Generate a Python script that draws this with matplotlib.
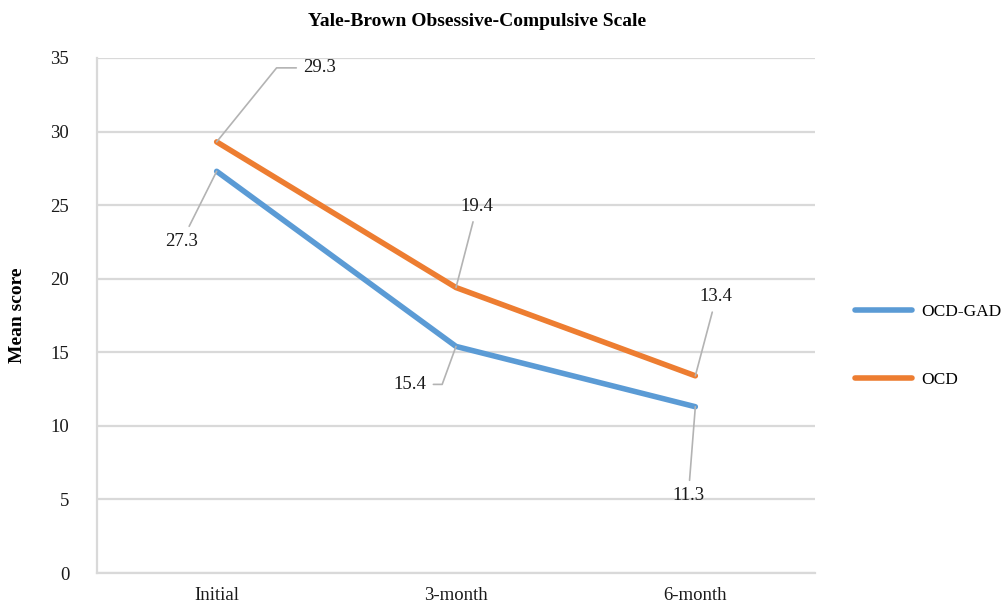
"""Yale-Brown Obsessive-Compulsive Scale: mean score over follow-up, two groups."""

import matplotlib
matplotlib.use("Agg")
import matplotlib.pyplot as plt

timepoints = ["Initial", "3-month", "6-month"]
ocd_gad = [27.3, 15.4, 11.3]
ocd = [29.3, 19.4, 13.4]
y_ticks = [0, 5, 10, 15, 20, 25, 30, 35]

# label offsets (pixels from the point) and leader style for each series
gad_labels = [((-35, -70), None), ((-46, -38), "angle,angleA=0,angleB=70,rad=0"),
              ((-7, -89), None)]
ocd_labels = [((103, 74), "angle,angleA=0,angleB=51,rad=0"), ((21, 81), None),
              ((21, 79), None)]

BLUE = "#5B9BD5"
ORANGE = "#ED7D31"
GRID = "#d9d9d9"
LEADER = "#b3b3b3"
FS = 13.5

plt.rcParams["font.family"] = ["Liberation Serif", "DejaVu Serif"]

fig = plt.figure(figsize=(10.04, 6.05), dpi=100)
ax = fig.add_axes([97 / 1004, 32 / 605, 718 / 1004, 515 / 605])

x = list(range(len(timepoints)))
ax.plot(x, ocd_gad, color=BLUE, lw=4.0, solid_capstyle="round",
        solid_joinstyle="round", label="OCD-GAD", zorder=3)
ax.plot(x, ocd, color=ORANGE, lw=4.0, solid_capstyle="round",
        solid_joinstyle="round", label="OCD", zorder=3)


def _label(xi, v, off, conn):
    arrow = dict(arrowstyle="-", color=LEADER, lw=1.2, shrinkA=3, shrinkB=0)
    if conn:
        arrow["connectionstyle"] = conn
    ax.annotate(f"{v:.1f}", xy=(xi, v), xytext=off, textcoords="offset pixels",
                ha="center", va="center", fontsize=FS, color="#1a1a1a",
                arrowprops=arrow, zorder=4)


for xi, v, (off, conn) in zip(x, ocd_gad, gad_labels):
    _label(xi, v, off, conn)
for xi, v, (off, conn) in zip(x, ocd, ocd_labels):
    _label(xi, v, off, conn)

ax.set_xlim(-0.5, len(timepoints) - 0.5)
ax.set_ylim(0, 35)
ax.set_yticks(y_ticks)
ax.set_xticks(x)
ax.set_xticklabels(timepoints)
ax.tick_params(axis="both", length=0, labelsize=FS, colors="#1a1a1a")
ax.tick_params(axis="x", pad=10)
ax.tick_params(axis="y", pad=20)
ax.grid(axis="y", color=GRID, lw=1.6)
ax.set_axisbelow(True)
for side in ("top", "right"):
    ax.spines[side].set_visible(False)
ax.spines["left"].set_color(GRID)
ax.spines["left"].set_linewidth(1.6)
ax.spines["bottom"].set_color(GRID)
ax.spines["bottom"].set_linewidth(1.6)

ax.set_ylabel("Mean score", fontsize=14, fontweight="bold")
ax.yaxis.set_label_coords(-71 / 718, 0.5)
fig.text(477 / 1004, 1 - 22 / 605, "Yale-Brown Obsessive-Compulsive Scale",
         ha="center", va="center", fontsize=14, fontweight="bold")

fig.legend(loc="upper left", bbox_to_anchor=(855 / 1004, 1 - 304 / 605),
           frameon=False, fontsize=12.5, handlelength=3.3, handletextpad=0.5,
           labelspacing=3.0, borderpad=0, borderaxespad=0)

fig.savefig("out.png", dpi=100)
